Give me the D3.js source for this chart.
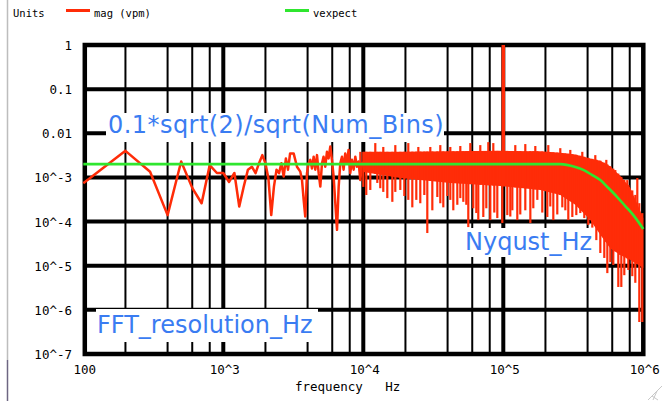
<!DOCTYPE html>
<html>
<head>
<meta charset="utf-8">
<script src="https://cdn.jsdelivr.net/npm/d3@7"></script>
<style>
  html, body { margin: 0; padding: 0; background: #fff; }
  svg { display: block; }
</style>
</head>
<body>
<script>
// FFT magnitude spectrum (log-log)

// individual bins, 100 Hz .. 10 kHz
const binFreq = [100, 200, 300, 400, 500, 600, 700, 800, 900, 1000, 1100, 1200, 1300, 1400, 1500,
  1600, 1700, 1800, 1900, 2000, 2100, 2200, 2300, 2400, 2500, 2600, 2700, 2800, 2900, 3000,
  3180, 3360, 3548, 3650, 3750, 3850, 3960, 4070, 4180, 4300, 4420, 4540, 4670, 4800, 4930,
  5070, 5200, 5350, 5500, 5650, 5810, 5970, 6140, 6310, 6490, 6670, 6850, 7040, 7230, 7430,
  7640, 7850, 8070, 8300, 8530, 8770, 9010, 9250, 9520, 9790, 10000];
const binMag = [7.4e-4, 4.0e-3, 1.35e-3, 1.4e-4, 2.3e-3, 5.8e-4, 2.6e-4, 1.9e-3, 1.26e-3, 1.26e-3,
  7.9e-4, 1.26e-3, 2.2e-4, 6.2e-4, 1.5e-3, 1.75e-3, 1.25e-3, 2.1e-3, 3.2e-3, 2.1e-3, 9.5e-4,
  1.4e-4, 6.2e-4, 1.5e-3, 1.25e-3, 2.1e-3, 1.05e-3, 2.7e-3, 1.5e-3, 3.5e-3,
  3.5e-3, 1.75e-3, 1.35e-3, 8.7e-4, 3.1e-4, 1.3e-4, 1.25e-3, 2.1e-3, 2.5e-3, 1.6e-3, 2.95e-3,
  1.5e-3, 3.2e-3, 1.25e-3, 6.2e-4, 2.1e-3, 2.95e-3, 1.75e-3, 3.8e-3, 2.7e-3, 5.0e-3, 2.5e-3,
  1.04e-3, 2.6e-4, 6.5e-5, 6.2e-4, 2.1e-3, 2.95e-3, 1.5e-3, 3.5e-3, 2.1e-3, 4.2e-3, 1.25e-3,
  2.5e-3, 1.5e-3, 2.95e-3, 1.75e-3, 2.3e-3, 8.7e-4, 2.1e-3, 2.2e-3];

// dense part above 10 kHz: solid band (upper / lower edge)
const bandFreq = [10000, 18370, 41800, 95200, 183700, 255300, 326600, 418000, 493000, 580000, 685000, 807000, 1000000];
const bandHi = [3.8e-3, 3.8e-3, 3.9e-3, 4.0e-3, 3.9e-3, 3.6e-3, 3.3e-3, 2.7e-3, 2.4e-3, 1.8e-3, 1.08e-3, 5.8e-4, 1.2e-4];
const bandLo = [1.33e-3, 9.7e-4, 7.5e-4, 6.4e-4, 5.2e-4, 4.0e-4, 2.4e-4, 1.08e-4, 5.0e-5, 2.5e-5, 1.75e-5, 1.35e-5, 8.9e-6];

// downward spikes out of the band
const dipFreq = [10000, 10500, 11220, 12590, 13220, 13890, 14840, 16120, 16930, 18380, 19630, 20960,
  22390, 23910, 25530, 27280, 28650, 31120, 33790, 35480, 37280, 39810, 41830, 43940, 46940,
  49310, 51800, 54410, 56230, 61050, 64140, 66280, 71970, 75620, 80750, 86240, 90610, 98370,
  106800, 112200, 116000, 125900, 132200, 143600, 156000, 163800, 175000, 189900, 206200,
  216600, 227600, 243000, 263900, 277400, 291300, 311200, 332300, 354800, 378900, 404800,
  432300, 461800, 493200, 526500, 553400, 581300, 610600, 662900, 696600, 731600, 781600,
  834500, 876900, 936400, 983700];
const dipMag = [6.1e-4, 4.0e-4, 5.2e-4, 7.5e-4, 5.7e-4, 4.7e-4, 3.4e-4, 2.8e-4, 4.7e-4, 5.2e-4, 3.8e-4, 3.1e-4,
  2.1e-4, 3.1e-4, 2.6e-4, 4.0e-4, 5.5e-5, 1.8e-4, 3.6e-4, 2.6e-4, 2.1e-4, 3.8e-4, 3.1e-4, 1.8e-4, 2.4e-4,
  3.4e-4, 2.8e-4, 2.4e-4, 7.5e-5, 2.0e-4, 1.56e-4, 1.08e-4, 1.27e-4, 2.0e-4, 1.08e-4, 1.6e-4, 1.2e-4, 9.3e-5,
  1.4e-4, 1.3e-4, 1.8e-4, 1.08e-4, 1.45e-4, 1.8e-4, 9.3e-5, 2.0e-4, 3.1e-4, 1.6e-4, 1.27e-4,
  2.2e-4, 1.08e-4, 1.45e-4, 2.1e-4, 1.8e-4, 1.08e-4, 1.27e-4, 1.4e-4, 1.56e-4, 1.2e-4, 8.4e-5,
  7.3e-5, 3.8e-5, 1.94e-5, 1.5e-5, 6.8e-6, 1.2e-5, 1.04e-5, 3.3e-6, 3.3e-6, 6.1e-6, 8.0e-6,
  5.8e-6, 4.1e-6, 5.3e-7, 5.3e-7];

// upward spikes above the band
const peakFreq = [9520, 12180, 13890, 16930, 20960, 24720, 30100, 35480, 41830, 49310, 58110, 68490,
  78160, 84830, 100000, 121800, 143600, 169300, 209600, 255300, 301000, 366600, 454100, 544200,
  631000, 685000, 768700, 906200];
const peakMag = [3.8e-3, 6.0e-3, 4.9e-3, 5.4e-3, 6.0e-3, 4.9e-3, 4.9e-3, 5.4e-3, 4.9e-3, 5.15e-3, 6.0e-3, 5.4e-3,
  6.3e-3, 6.0e-3, 1.0, 5.4e-3, 5.7e-3, 5.15e-3, 5.4e-3, 4.6e-3, 4.2e-3, 3.8e-3, 3.2e-3, 2.5e-3,
  1.47e-3, 1.02e-3, 8.7e-4, 9.7e-4];

// expected level 0.1*sqrt(2)/sqrt(Num_Bins) with roll-off near Nyquist
const vexpectFreq = [100, 255000, 327000, 373000, 432000, 493000, 562000, 651000, 743000, 849000, 1000000];
const vexpectVal = [0.002, 0.002, 0.00172, 0.00148, 0.00113, 8.7e-4, 5.8e-4, 3.6e-4, 2.25e-4, 1.4e-4, 6.8e-5];

// axes
const xTicks = [100, 1e3, 1e4, 1e5, 1e6];
const xTickLabels = ["100", "10^3", "10^4", "10^5", "10^6"];
const yTicks = [1, 0.1, 0.01, 1e-3, 1e-4, 1e-5, 1e-6, 1e-7];
const yTickLabels = ["1", "0.1", "0.01", "10^-3", "10^-4", "10^-5", "10^-6", "10^-7"];
const minorSteps = [2, 4, 6, 8];

const width = 664, height = 401;
const RED = "#ff2c08", GREEN = "#2fe62f", BLUE = "#3a7cf2";
const mono = "'DejaVu Sans Mono', monospace";

const svg = d3.select("body").append("svg")
  .attr("width", width)
  .attr("height", height);

const x = d3.scaleLog().domain([100, 1e6]).range([83.3, 643.3]);
const y = d3.scaleLog().domain([1e-7, 1]).range([354, 45]);

// window edge
svg.append("line").attr("x1", 7.5).attr("x2", 7.5).attr("y1", 0).attr("y2", 360)
  .attr("stroke", "#bdbdbd").attr("stroke-width", 1.5);
svg.append("line").attr("x1", 7.5).attr("x2", 7.5).attr("y1", 360).attr("y2", height)
  .attr("stroke", "#6d6682").attr("stroke-width", 1.5);

// grid
const grid = svg.append("g").attr("stroke", "#000");
const minorX = [];
for (let d = 100; d < 1e6; d *= 10) minorSteps.forEach(k => minorX.push(d * k));
grid.selectAll(".vminor").data(minorX).join("line")
  .attr("x1", d => x(d)).attr("x2", d => x(d))
  .attr("y1", y(1)).attr("y2", y(1e-7))
  .attr("stroke-width", 2);
grid.selectAll(".vmajor").data(xTicks.slice(1, -1)).join("line")
  .attr("x1", d => x(d)).attr("x2", d => x(d))
  .attr("y1", y(1)).attr("y2", y(1e-7))
  .attr("stroke-width", 4);
grid.selectAll(".hmajor").data(yTicks.slice(1, -1)).join("line")
  .attr("x1", x(100)).attr("x2", x(1e6))
  .attr("y1", d => y(d)).attr("y2", d => y(d))
  .attr("stroke-width", 4);
// frame
grid.append("rect")
  .attr("x", x(100) + 1.5).attr("y", y(1))
  .attr("width", x(1e6) - x(100) - 1.5).attr("height", y(1e-7) - y(1))
  .attr("fill", "none").attr("stroke-width", 4.5);

// data
const plot = svg.append("g");
const bandHiAt = d3.scaleLog().domain(bandFreq).range(bandHi);
const bandLoAt = d3.scaleLog().domain(bandFreq).range(bandLo);

plot.append("path")
  .datum(bandFreq.map((f, i) => ({f, hi: bandHi[i], lo: bandLo[i]})))
  .attr("fill", RED)
  .attr("d", d3.area().x(d => x(d.f)).y0(d => y(d.lo)).y1(d => y(d.hi)));

plot.selectAll(".dip").data(dipFreq.map((f, i) => ({f, v: dipMag[i]}))).join("line")
  .attr("x1", d => x(d.f)).attr("x2", d => x(d.f))
  .attr("y1", d => y(bandHiAt(d.f))).attr("y2", d => y(d.v))
  .attr("stroke", RED).attr("stroke-width", 2.2);

plot.selectAll(".peak").data(peakFreq.map((f, i) => ({f, v: peakMag[i]}))).join("line")
  .attr("x1", d => x(d.f)).attr("x2", d => x(d.f))
  .attr("y1", d => y(bandLoAt(d.f))).attr("y2", d => y(d.v))
  .attr("stroke", RED).attr("stroke-width", d => d.v > 0.1 ? 3.5 : 2.2);

plot.append("path")
  .datum(binFreq.map((f, i) => ({f, v: binMag[i]})))
  .attr("fill", "none").attr("stroke", RED).attr("stroke-width", 2.5)
  .attr("stroke-linejoin", "round")
  .attr("d", d3.line().x(d => x(d.f)).y(d => y(d.v)));

plot.append("path")
  .datum(vexpectFreq.map((f, i) => ({f, v: vexpectVal[i]})))
  .attr("fill", "none").attr("stroke", GREEN).attr("stroke-width", 2.6)
  .attr("d", d3.line().x(d => x(d.f)).y(d => y(d.v)).curve(d3.curveMonotoneX));

// tick labels
svg.append("g").selectAll("text").data(yTicks).join("text")
  .attr("x", 72).attr("y", d => y(d) + 5)
  .attr("text-anchor", "end")
  .attr("font-family", mono).attr("font-size", 12.5)
  .text((d, i) => yTickLabels[i]);
svg.append("g").selectAll("text").data(xTicks).join("text")
  .attr("x", d => x(d) + 1.5).attr("y", 374)
  .attr("text-anchor", "middle")
  .attr("font-family", mono).attr("font-size", 12.5)
  .text((d, i) => xTickLabels[i]);
svg.append("text")
  .attr("x", 295).attr("y", 391)
  .attr("font-family", mono).attr("font-size", 12.5)
  .attr("xml:space", "preserve").style("white-space", "pre")
  .text("frequency   Hz");

// legend
svg.append("text").attr("x", 13).attr("y", 17)
  .attr("font-family", mono).attr("font-size", 10.5).text("Units");
const legend = [{name: "mag (vpm)", color: RED, x0: 66}, {name: "vexpect", color: GREEN, x0: 285}];
legend.forEach(l => {
  svg.append("line").attr("x1", l.x0).attr("x2", l.x0 + 24).attr("y1", 10.5).attr("y2", 10.5)
    .attr("stroke", l.color).attr("stroke-width", 3);
  svg.append("text").attr("x", l.x0 + 28).attr("y", 17)
    .attr("font-family", mono).attr("font-size", 10.5).text(l.name);
});

// annotations in white boxes
const notes = [
  {text: "0.1*sqrt(2)/sqrt(Num_Bins)", bx: 106, by: 113, bw: 338, bh: 29, tx: 108, ty: 133, ls: 0.45},
  {text: "FFT_resolution_Hz", bx: 96, by: 309, bw: 222, bh: 33, tx: 97, ty: 333, ls: 0},
  {text: "Nyqust_Hz", bx: 462, by: 228, bw: 131, bh: 29, tx: 465, ty: 250, ls: 0}
];
notes.forEach(n => {
  svg.append("rect").attr("x", n.bx).attr("y", n.by).attr("width", n.bw).attr("height", n.bh)
    .attr("fill", "#fff");
  svg.append("text").attr("x", n.tx).attr("y", n.ty)
    .attr("font-family", "'DejaVu Sans', sans-serif").attr("font-size", 24)
    .attr("letter-spacing", n.ls)
    .attr("fill", BLUE).text(n.text);
});

// resize grip
[0, 5, 10].forEach(o => {
  svg.append("line").attr("x1", 662 - o).attr("y1", 386 + o).attr("x2", 648 + o).attr("y2", 400)
    .attr("stroke", "#c8c8c8").attr("stroke-width", 1);
});
</script>
</body>
</html>
